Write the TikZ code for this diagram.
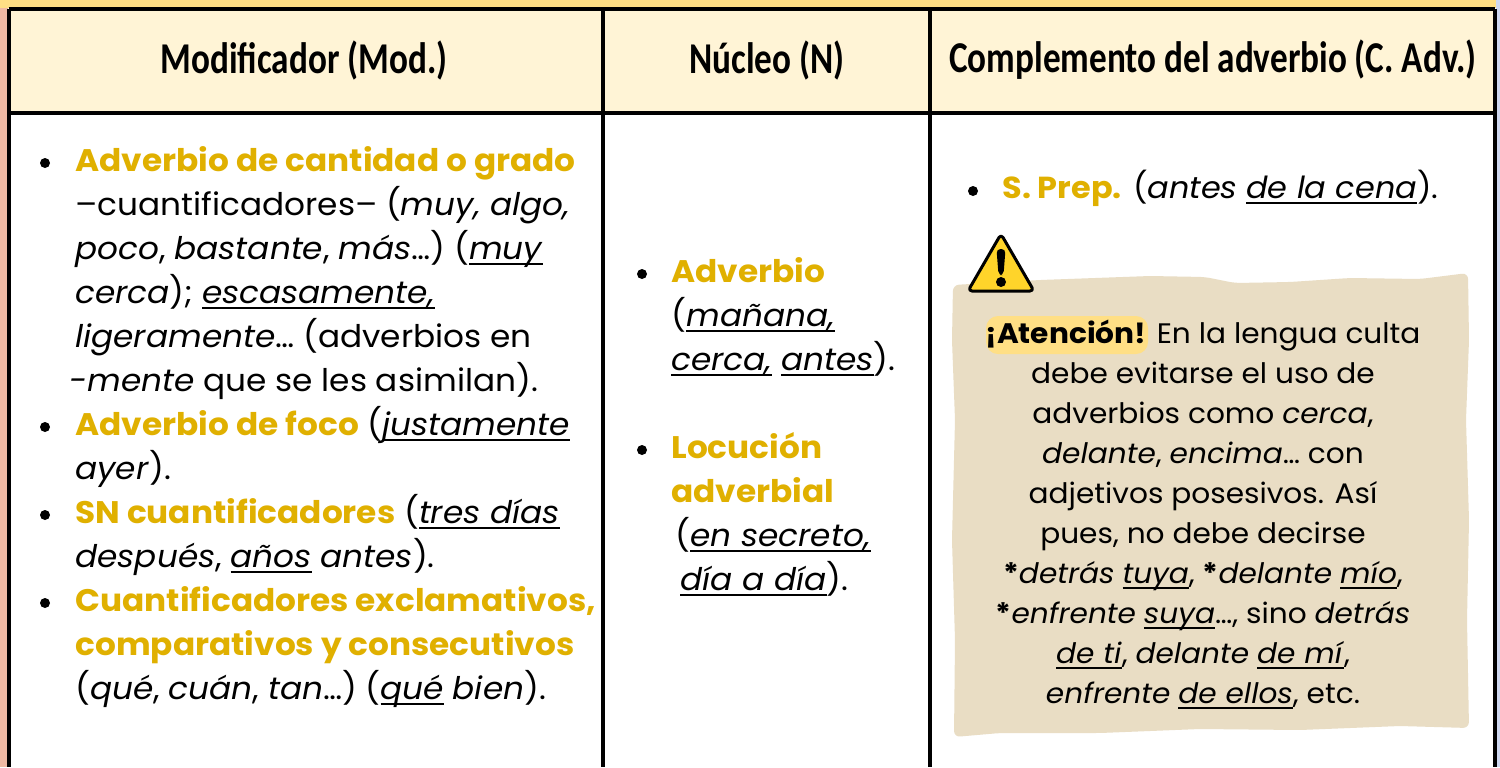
\documentclass[tikz,border=0pt]{standalone}
\usepackage{fontspec}
\setmainfont{Poppins}[FakeStretch=1.05]
\newfontfamily\headfont{Carlito}[FakeStretch=0.8]
\definecolor{gold}{HTML}{E0B000}
\definecolor{headfill}{HTML}{FFF4D6}
\definecolor{topband}{HTML}{FFDF85}
\definecolor{pinkbg}{HTML}{EFB9A3}
\definecolor{bluebg}{HTML}{CFD8F0}
\definecolor{sand}{HTML}{E9DDC4}
\definecolor{warn}{HTML}{FFD42A}
\newcommand{\ul}[1]{\setbox0=\hbox{#1}\rlap{\rule[-2.8pt]{\wd0}{0.8pt}}\box0\relax}
\newcommand{\gb}[1]{\textcolor{gold}{\textbf{#1}}}
\tikzset{
  rule/.style={draw=black,line width=2pt},
  bodytext/.style={anchor=base west,inner sep=0pt,font=\fontsize{15.6}{18}\selectfont},
  notetext/.style={anchor=base,inner sep=0pt,font=\fontsize{14.1}{16}\selectfont},
  headtext/.style={inner sep=0pt,font=\headfont\bfseries\fontsize{22}{24}\selectfont},
  dot/.style={fill=black,circle,inner sep=0pt,minimum size=5pt}
}
\begin{document}
\begin{tikzpicture}[x=0.5pt,y=-0.5pt]
\useasboundingbox (0,0) rectangle (1500,767);
\fill[white] (0,0) rectangle (1500,767);
\fill[pinkbg] (0,0) rectangle (8,767);
\fill[bluebg] (1496,0) rectangle (1500,767);
\fill[topband] (0,0) rectangle (1496,8);
\fill[headfill] (8,9) rectangle (1496,112);
% table rules
\coordinate (tl) at (8.5,9); \coordinate (tr) at (1495,9);
\coordinate (ml) at (8.5,112.5); \coordinate (mr) at (1495,112.5);
\coordinate (bl) at (8.5,767); \coordinate (br) at (1495,767);
\coordinate (c1t) at (603,9); \coordinate (c1b) at (603,767);
\coordinate (c2t) at (930,9); \coordinate (c2b) at (930,767);
\draw[rule] (tl) -- (tr);
\draw[rule] (ml) -- (mr);
\draw[rule] (tl) -- (bl);
\draw[rule] (tr) -- (br);
\draw[rule] (c1t) -- (c1b);
\draw[rule] (c2t) -- (c2b);
% headers
\node[headtext] (h1) at (304,60) {Modificador (Mod.)};
\node[headtext] (h2) at (767,60) {Núcleo (N)};
\node[headtext] (h3) at (1213,60) {Complemento del adverbio (C. Adv.)};
% left column
\foreach \n/\y in {a/160,b/424,c/512,d/600} \node[dot] (dot\n) at (45,\y+3) {};
\node[bodytext] (l1) at (75,171) {\gb{Adverbio de cantidad o grado}};
\node[bodytext] (l2) at (75,215) {–cuantificadores– (\textit{muy, algo,}};
\node[bodytext] (l3) at (75,259) {\textit{poco}, \textit{bastante}, \textit{más}…) (\ul{\textit{muy}}};
\node[bodytext] (l4) at (75,303) {\textit{cerca}); \ul{\textit{escasamente,}}};
\node[bodytext] (l5) at (75,347) {\textit{ligeramente}… (adverbios en};
\node[bodytext] (l6) at (69,391) {\textit{-mente} que se les asimilan).};
\node[bodytext] (l7) at (75,435) {\gb{Adverbio de foco} (\ul{\textit{justamente}}};
\node[bodytext] (l8) at (75,479) {\textit{ayer}).};
\node[bodytext] (l9) at (75,523) {\gb{SN cuantificadores} (\ul{\textit{tres días}}};
\node[bodytext] (l10) at (75,567) {\textit{después}, \ul{\textit{años}} \textit{antes}).};
\node[bodytext] (l11) at (75,611) {\gb{Cuantificadores exclamativos,}};
\node[bodytext] (l12) at (75,655) {\gb{comparativos y consecutivos}};
\node[bodytext] (l13) at (75,699) {(\textit{qué}, \textit{cuán}, \textit{tan}…) (\ul{\textit{qué}} \textit{bien}).};
% middle column
\foreach \n/\y in {a/271,b/447} \node[dot] (mdot\n) at (642,\y+3) {};
\node[bodytext] (m1) at (671,282) {\gb{Adverbio}};
\node[bodytext] (m2) at (671,326) {(\ul{\textit{mañana,}}};
\node[bodytext] (m3) at (671,370) {\ul{\textit{cerca,}} \ul{\textit{antes}}).};
\node[bodytext] (m4) at (671,458) {\gb{Locución}};
\node[bodytext] (m5) at (671,502) {\gb{adverbial}};
\node[bodytext] (m6) at (675,546) {(\ul{\textit{en secreto,}}};
\node[bodytext] (m7) at (680,590) {\ul{\textit{día a día}}).};
% right column
\node[dot] (rdot) at (973,191) {};
\node[bodytext,font=\fontsize{15.2}{18}\selectfont] (r1) at (1002,198) {\gb{S. Prep.} (\textit{antes} \ul{\textit{de la cena}}).};
% note paper
\fill[sand,rounded corners=3pt] (953,285) -- (1040,280) -- (1150,276) -- (1205,277) -- (1235,283) -- (1290,282) -- (1350,278) -- (1420,279) -- (1468,273)
 -- (1469,340) -- (1466,420) -- (1469,520) -- (1467,620) -- (1469,728)
 -- (1400,726) -- (1300,730) -- (1200,729) -- (1100,733) -- (1000,733) -- (954,737)
 -- (955,640) -- (952,540) -- (955,420) -- (952,340) -- cycle;
% warning sign
\coordinate (wa) at (1001,234); \coordinate (wb) at (968,291); \coordinate (wc) at (1034,291);
\draw[fill=warn,draw=black,line width=1.5pt,line join=round,rounded corners=2pt] (wa) -- (wc) -- (wb) -- cycle;
\fill[black,rounded corners=2pt] (996.5,249) -- (1005.5,249) -- (1003.5,275) -- (998.5,275) -- cycle;
\node[dot] (wdot) at (1001,282) {};
% highlighted word
\fill[topband,rounded corners=6pt] (986,316) rectangle (1148,354);
% note text
\node[notetext] (n1) at (1203,343) {\textbf{¡Atención!} En la lengua culta};
\node[notetext] (n2) at (1203,383) {debe evitarse el uso de};
\node[notetext] (n3) at (1203,423) {adverbios como \textit{cerca},};
\node[notetext] (n4) at (1203,463) {\textit{delante}, \textit{encima}… con};
\node[notetext] (n5) at (1203,503) {adjetivos posesivos. Así};
\node[notetext] (n6) at (1203,543) {pues, no debe decirse};
\node[notetext] (n7) at (1203,583) {\textbf{*}\textit{detrás} \ul{\textit{tuya}}, \textbf{*}\textit{delante} \ul{\textit{mío}},};
\node[notetext] (n8) at (1203,623) {\textbf{*}\textit{enfrente} \ul{\textit{suya}}…, sino \textit{detrás}};
\node[notetext] (n9) at (1203,663) {\ul{\textit{de ti}}, \textit{delante} \ul{\textit{de mí}},};
\node[notetext] (n10) at (1203,703) {\textit{enfrente} \ul{\textit{de ellos}}, etc.};
\end{tikzpicture}
\end{document}
